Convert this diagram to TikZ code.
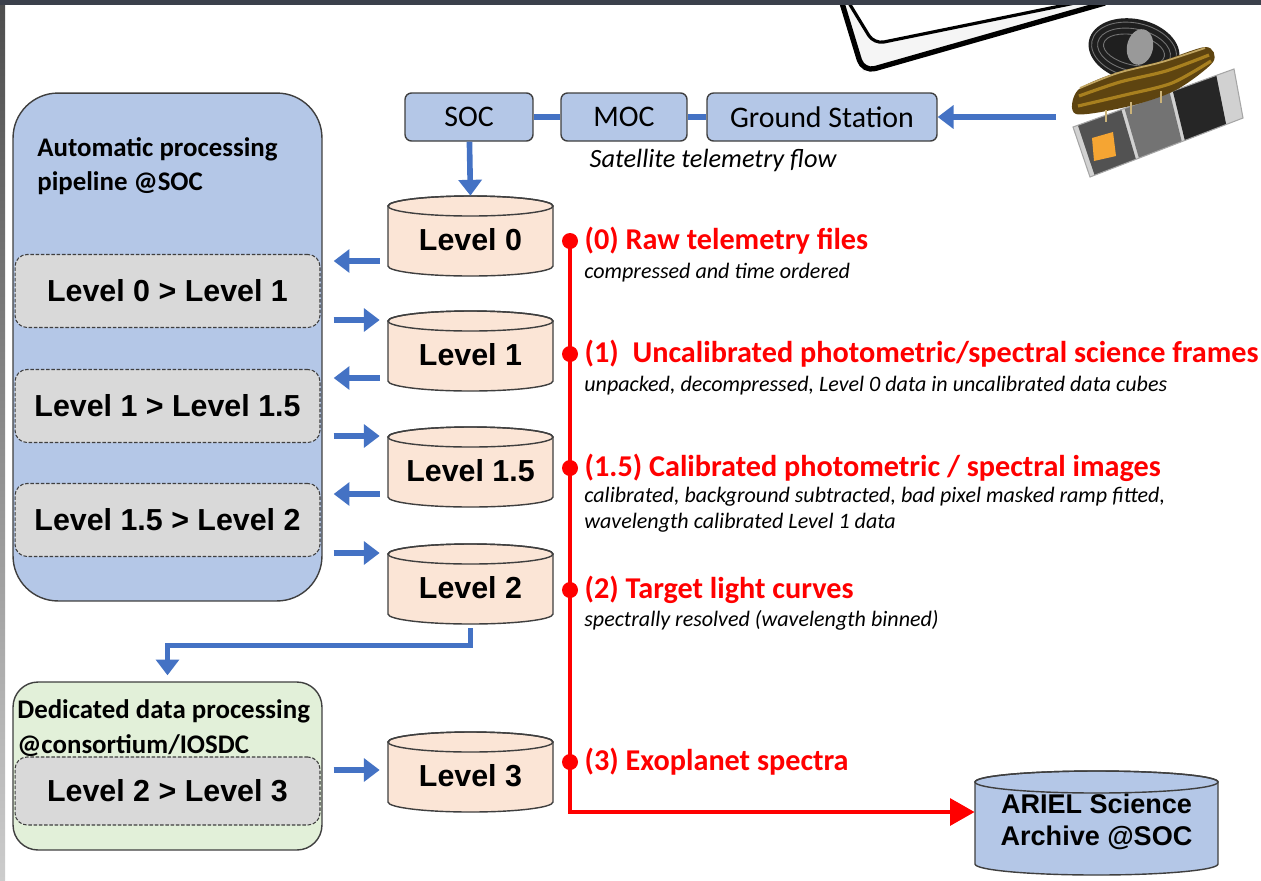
\documentclass[tikz,border=0pt]{standalone}
\usepackage{fontspec}
\setmainfont{Carlito}
\newfontfamily\arialfont{Liberation Sans}
\usetikzlibrary{arrows.meta,calc,positioning}

\definecolor{stageblue}{HTML}{B4C7E7}
\definecolor{boxline}{HTML}{3F3F3F}
\definecolor{drumfill}{HTML}{FBE5D6}
\definecolor{stepgray}{HTML}{D9D9D9}
\definecolor{dedgreen}{HTML}{E2F0D9}
\definecolor{flowblue}{HTML}{4472C4}
\definecolor{alarmred}{HTML}{FF0000}
\definecolor{topbar}{HTML}{3B404B}
\definecolor{shieldbrown}{HTML}{5E4410}
\definecolor{shieldgold}{HTML}{A8801F}
\definecolor{solarorange}{HTML}{F5A533}

\tikzset{
  stage/.style={draw=boxline, fill=stageblue, line width=0.8pt, rounded corners=0.13cm,
    minimum height=0.96cm, inner sep=0pt, font=\fontsize{17}{20}\selectfont},
  pipe/.style={draw=boxline, line width=0.8pt, inner sep=0pt},
  boxtitle/.style={anchor=west, align=left, inner sep=0pt, font=\bfseries\fontsize{15.3}{19.5}\selectfont},
  levelbox/.style={draw=boxline, dash pattern=on 2pt off 1pt, line width=0.6pt, fill=stepgray,
    rounded corners=0.24cm, minimum width=6.1cm, inner sep=0pt,
    font=\arialfont\bfseries\fontsize{17.3}{20}\selectfont},
  drum/.style={draw=boxline, line width=0.8pt, fill=drumfill},
  drumtext/.style={minimum width=3.3cm, minimum height=1.6cm, inner sep=0pt, yshift=-0.08cm,
    font=\arialfont\bfseries\fontsize{17.3}{20}\selectfont},
  archtext/.style={minimum width=4.86cm, minimum height=2cm, inner sep=0pt, align=center,
    font=\arialfont\bfseries\fontsize{15.4}{18.2}\selectfont},
  flow/.style={draw=flowblue, line width=3.2pt, -{Triangle[length=9pt,width=13pt]}},
  link/.style={draw=flowblue, line width=3pt},
  redline/.style={draw=alarmred, line width=2.8pt},
  dot/.style={circle, fill=alarmred, inner sep=0pt, minimum size=0.32cm},
  head/.style={inner sep=0pt, text=alarmred, font=\bfseries\fontsize{17.2}{20}\selectfont},
  note/.style={anchor=west, align=left, inner sep=0pt, font=\itshape\fontsize{12.55}{14.8}\selectfont},
}

\begin{document}
\begin{tikzpicture}[x=0.02cm, y=-0.02cm]
  \useasboundingbox (0,0) rectangle (1261,880);
  \fill[white] (0,0) rectangle (1261,880);

  % sketched corner at the top
  \fill[black!4] (842,3) -- (863,72) -- (1105,3) -- cycle;
  \draw[line width=3pt, rounded corners=0.25cm] (842,3) -- (863,72) -- (1105,3);
  \fill[white, rounded corners=0.2cm] (849,3) -- (874,44) -- (1075,3) -- cycle;
  \draw[line width=1.8pt, rounded corners=0.2cm] (849,3) -- (874,44) -- (1075,3);

  % frame
  \shade[top color=black!70, bottom color=black!20] (0,0) rectangle (5,880);
  \fill[topbar] (0,0) rectangle (1261,5);

  % satellite: body
  \coordinate (sA) at (1073,127);
  \coordinate (sB) at (1234,69);
  \coordinate (sC) at (1243,118);
  \coordinate (sD) at (1090,177);
  \fill[black!18] (sA) -- (sB) -- (sC) -- (sD) -- cycle;
  \fill[black!68] ($(sA)!0.03!(sB)$) -- ($(sA)!0.3!(sB)$) -- ($(sD)!0.3!(sC)$) -- ($(sD)!0.03!(sC)$) -- cycle;
  \fill[black!55] ($(sA)!0.32!(sB)$) -- ($(sA)!0.6!(sB)$) -- ($(sD)!0.6!(sC)$) -- ($(sD)!0.32!(sC)$) -- cycle;
  \fill[black!85] ($(sA)!0.62!(sB)$) -- ($(sA)!0.89!(sB)$) -- ($(sD)!0.89!(sC)$) -- ($(sD)!0.62!(sC)$) -- cycle;
  \fill[solarorange] (1092,138) -- (1113,132) -- (1116,156) -- (1094,161) -- cycle;
  \draw[black!35, line width=0.6pt] (sA) -- (sB) -- (sC) -- (sD) -- cycle;
  % satellite: telescope barrel
  \fill[black!88, rotate around={-12:(1134,50)}] (1134,50) ellipse (46 and 31);
  \foreach \r in {27,21,15}
    \draw[black!55, line width=0.5pt, rotate around={-12:(1134,50)}] (1134,50) ellipse (\r+16 and \r);
  \fill[black!40, rotate around={-12:(1140,47)}] (1140,47) ellipse (13 and 18);
  \fill[black!25] (1168,62) -- (1182,58) -- (1186,69) -- (1172,73) -- cycle;
  % satellite: sunshield
  \fill[shieldbrown] plot[smooth cycle] coordinates {(1076,114) (1078,90) (1118,72) (1162,61) (1206,47) (1213,62) (1176,90) (1130,106)};
  \draw[shieldgold, line width=1.8pt] plot[smooth] coordinates {(1079,96) (1120,82) (1166,71) (1209,55)};
  \draw[shieldgold, line width=1.8pt] plot[smooth] coordinates {(1078,106) (1125,95) (1172,83) (1211,61)};
  \draw[shieldgold!70!white, line width=1pt] plot[smooth] coordinates {(1080,88) (1118,73) (1162,62) (1205,48)};
  \foreach \x in {1105,1130,1160}
    \fill[shieldgold!60!white] (\x,{112-(\x-1100)*0.35}) rectangle ++(2,12);

  % ground segment
  \node[stage, minimum width=2.56cm] (soc) at (469,117) {SOC};
  \node[stage, minimum width=2.52cm] (moc) at (624,117) {MOC};
  \node[stage, minimum width=4.6cm] (gs) at (822,117) {Ground Station};
  \draw[link] (soc) -- (moc);
  \draw[link] (moc) -- (gs);
  \coordinate (sat) at (1056,117);
  \draw[flow] (sat) -- (gs);
  \node[inner sep=0pt, font=\itshape\fontsize{15}{18}\selectfont] (tmflow) at (713,160) {Satellite telemetry flow};

  % processing pipeline at the SOC
  \node[pipe, fill=stageblue, rounded corners=0.9cm, minimum width=6.18cm, minimum height=10.16cm] (auto) at (167.5,347) {};
  \node[boxtitle] (autotitle) at (37,166) {Automatic processing\\pipeline @SOC};
  \node[levelbox, minimum height=1.46cm] (p01) at (167.5,291) {Level 0 > Level 1};
  \node[levelbox, minimum height=1.46cm] (p115) at (167.5,406) {Level 1 > Level 1.5};
  \node[levelbox, minimum height=1.46cm] (p152) at (167.5,520) {Level 1.5 > Level 2};

  % data products
  \foreach \cy/\nm/\lab in {236/lv0/Level 0, 351/lv1/Level 1, 467/lv15/Level 1.5, 584/lv2/Level 2, 772/lv3/Level 3} {
    \draw[drum] (388,\cy-30) -- (388,\cy+30) arc[start angle=180, end angle=0, x radius=82.5, y radius=10]
      -- (553,\cy-30) arc[start angle=0, end angle=-180, x radius=82.5, y radius=10] -- cycle;
    \draw[boxline, line width=0.8pt] (470.5,\cy-30) ellipse [x radius=82.5, y radius=10];
    \node[drumtext] (\nm) at (470.5,\cy) {\lab};
  }

  \draw[flow, shorten >=0.08cm] (soc) -- (lv0.north);
  \foreach \y/\nm in {261/lv0, 378/lv1, 494/lv15}
    \draw[flow, shorten <=0.16cm, shorten >=0.22cm] (\nm.west |- 0,\y) -- (auto.east |- 0,\y);
  \foreach \y/\nm in {320/lv1, 436/lv15, 553/lv2}
    \draw[flow, shorten <=0.22cm, shorten >=0.16cm] (auto.east |- 0,\y) -- (\nm.west |- 0,\y);

  % dedicated processing
  \node[pipe, fill=dedgreen, rounded corners=0.5cm, minimum width=6.18cm, minimum height=3.36cm] (ded) at (167.5,766) {};
  \node[boxtitle] (dedtitle) at (17,728) {Dedicated data processing\\@consortium/IOSDC};
  \node[levelbox, minimum height=1.36cm] (p23) at (167.5,791) {Level 2 > Level 3};
  \draw[flow, shorten >=0.12cm] (lv2.south) -- ++(0,17) -| (ded.north);
  \draw[flow, shorten <=0.22cm, shorten >=0.16cm] (ded.east |- 0,770) -- (lv3.west |- 0,770);

  % archive
  \draw[drum, fill=stageblue] (975,782) -- (975,864) arc[start angle=180, end angle=0, x radius=121.5, y radius=11]
    -- (1218,782) arc[start angle=0, end angle=-180, x radius=121.5, y radius=11] -- cycle;
  \draw[boxline, line width=0.8pt] (1096.5,782) ellipse [x radius=121.5, y radius=11];
  \node[archtext] (archive) at (1096.5,822) {ARIEL Science\\Archive @SOC};

  % product levels
  \coordinate (rtop) at (570,241);
  \coordinate (rturn) at (570,812);
  \draw[redline, -{Triangle[length=14pt,width=15pt]}] (rtop) -- (rturn) -- (rturn -| archive.west);
  \foreach \y/\nm in {241/d0, 354/d1, 468/d15, 590/d2, 762/d3}
    \node[dot] (\nm) at (570,\y) {};

  \node[head, right=0.12cm of d0] (h0) {(0) Raw telemetry files};
  \node[head, right=0.12cm of d1] (h1) {(1)~~Uncalibrated photometric/spectral science frames};
  \node[head, right=0.12cm of d15] (h15) {(1.5) Calibrated photometric / spectral images};
  \node[head, right=0.12cm of d2] (h2) {(2) Target light curves};
  \node[head, right=0.12cm of d3] (h3) {(3) Exoplanet spectra};

  \node[note] (n0) at (584,273) {compressed and time ordered};
  \node[note] (n1) at (584,386) {unpacked, decompressed, Level 0 data in uncalibrated data cubes};
  \node[note] (n15) at (584,510) {calibrated, background subtracted, bad pixel masked ramp fitted,\\wavelength calibrated Level 1 data};
  \node[note] (n2) at (584,620) {spectrally resolved (wavelength binned)};
\end{tikzpicture}
\end{document}
